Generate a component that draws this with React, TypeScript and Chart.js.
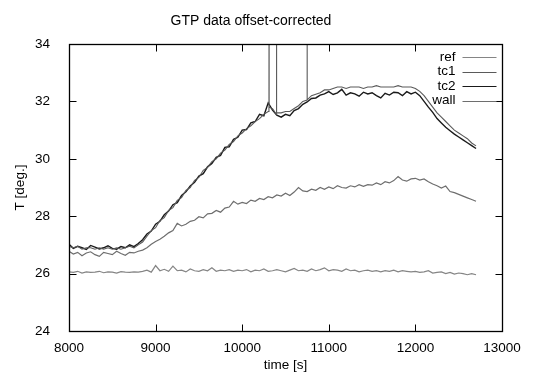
import { useEffect, useRef } from "react";
import { Chart, registerables } from "chart.js";

Chart.register(...registerables);

const times = [
  8000, 8050, 8100, 8150, 8200, 8250, 8300, 8350, 8400, 8450, 8500, 8550, 8600, 8650, 8700, 8750, 8800, 8850, 8900, 8950,
  9000, 9050, 9100, 9150, 9200, 9250, 9300, 9350, 9400, 9450, 9500, 9550, 9600, 9650, 9700, 9750, 9800, 9850, 9900, 9950,
  10000, 10050, 10100, 10150, 10200, 10250, 10300, 10350, 10400, 10450, 10500, 10550, 10600, 10650, 10700, 10750, 10800, 10850, 10900, 10950,
  11000, 11050, 11100, 11150, 11200, 11250, 11300, 11350, 11400, 11450, 11500, 11550, 11600, 11650, 11700, 11750, 11800, 11850, 11900, 11950,
  12000, 12050, 12100, 12150, 12200, 12250, 12300, 12350, 12400, 12450, 12500, 12550, 12600, 12650, 12700,
];

const refValues = [
  26.06, 26.04, 26.08, 26.02, 26.06, 26.04, 26.05, 26.08, 26.03, 26.06, 26.05, 26.02, 26.07, 26.05, 26.04, 26.06, 26.05, 26.08, 26.12, 26.05,
  26.28, 26.1, 26.15, 26.08, 26.26, 26.1, 26.12, 26.06, 26.16, 26.1, 26.08, 26.14, 26.1, 26.2, 26.08, 26.12, 26.1, 26.14, 26.08, 26.12,
  26.1, 26.14, 26.06, 26.12, 26.1, 26.16, 26.08, 26.1, 26.14, 26.1, 26.06, 26.12, 26.18, 26.1, 26.12, 26.08, 26.16, 26.1, 26.14, 26.2,
  26.1, 26.14, 26.12, 26.08, 26.16, 26.1, 26.12, 26.06, 26.1, 26.12, 26.08, 26.1, 26.06, 26.1, 26.08, 26.12, 26.06, 26.1, 26.08, 26.06,
  26.08, 26.04, 26.06, 26.1, 26.02, 26.04, 26.06, 26.0, 26.04, 25.98, 26.02, 26.0, 25.96, 26.0, 25.96,
];

const tc1Values = [
  26.95, 26.9, 26.95, 26.85, 26.9, 26.9, 26.85, 26.9, 26.85, 26.9, 26.85, 26.9, 26.85, 26.9, 26.95, 26.9, 27.0, 27.1, 27.3, 27.5,
  27.6, 27.85, 27.95, 28.2, 28.3, 28.55, 28.65, 28.9, 29.0, 29.25, 29.35, 29.6, 29.7, 29.9, 30.0, 30.2, 30.3, 30.5, 30.6, 30.8,
  30.9, 31.05, 31.15, 31.3, 31.4, 31.55, 31.65, 31.75, 31.6, 31.6, 31.65, 31.65, 31.75, 31.85, 32.0, 32.1, 32.2, 32.25, 32.3, 32.4,
  32.4, 32.45, 32.5, 32.5, 32.45, 32.5, 32.5, 32.5, 32.45, 32.5, 32.5, 32.55, 32.5, 32.5, 32.5, 32.5, 32.55, 32.5, 32.5, 32.5,
  32.45, 32.35, 32.2, 32.0, 31.8, 31.6, 31.45, 31.3, 31.15, 31.0, 30.9, 30.8, 30.7, 30.55, 30.45,
];

const tc2Values = [
  27.02, 26.88, 26.95, 26.9, 26.84, 26.98, 26.92, 26.86, 26.9, 26.97, 26.88, 26.85, 26.94, 26.9, 27.0, 26.94, 27.05, 27.18, 27.38, 27.48,
  27.72, 27.82, 28.05, 28.18, 28.4, 28.47, 28.72, 28.85, 29.05, 29.18, 29.4, 29.48, 29.72, 29.84, 30.05, 30.12, 30.4, 30.42, 30.68, 30.75,
  31.0, 31.02, 31.25, 31.3, 31.55, 31.5, 31.95, 31.7, 31.52, 31.45, 31.55, 31.5, 31.68, 31.75, 31.9, 31.98, 32.1, 32.12, 32.22, 32.26,
  32.34, 32.24, 32.3, 32.42, 32.22, 32.3, 32.26, 32.18, 32.32, 32.26, 32.3, 32.2, 32.12, 32.28, 32.22, 32.32, 32.3, 32.2, 32.34, 32.26,
  32.32, 32.2, 32.0, 31.8, 31.62, 31.4, 31.25, 31.1, 30.98, 30.86, 30.76, 30.66, 30.56, 30.46, 30.36,
];

const wallValues = [
  26.78, 26.68, 26.74, 26.62, 26.72, 26.76, 26.66, 26.6, 26.74, 26.7, 26.66, 26.78, 26.7, 26.64, 26.74, 26.72, 26.78, 26.82, 26.9, 27.02,
  27.12, 27.2, 27.3, 27.42, 27.5, 27.75, 27.66, 27.72, 27.82, 27.86, 27.98, 27.94, 28.08, 28.1, 28.2, 28.14, 28.28, 28.32, 28.52, 28.42,
  28.48, 28.44, 28.56, 28.52, 28.62, 28.58, 28.68, 28.64, 28.74, 28.7, 28.8, 28.72, 28.84, 29.0, 28.88, 28.86, 28.94, 28.9, 29.0, 28.94,
  29.02, 28.96, 29.06, 29.0, 28.98, 29.06, 29.02, 29.1, 29.04, 29.1, 29.08, 29.16, 29.1, 29.2, 29.16, 29.24, 29.38, 29.26, 29.22, 29.3,
  29.32, 29.26, 29.3, 29.2, 29.12, 29.06, 28.98, 29.05, 28.86, 28.82, 28.76, 28.7, 28.64, 28.58, 28.52,
];

// glitch spikes in tc1 (they run off the top of the plot)
const spikeTimes = [10310, 10395, 10750];
const spikeBase = [31.8, 31.55, 32.05];
const spikeTop = 36;

const seriesNames = ["ref", "tc1", "tc2", "wall"];
const seriesColors = ["#858585", "#5a5a5a", "#1a1a1a", "#6e6e6e"];
const seriesWidths = [1.2, 1.1, 1.4, 1.2];

const xMin = 8000;
const xMax = 13000;
const xStep = 1000;
const yMin = 24;
const yMax = 34;
const yStep = 2;

const FONT = "'Liberation Sans', Arial, sans-serif";

function toPoints(vals: number[]) {
  return times.map((t, i) => ({ x: t, y: vals[i] }));
}

function tc1Points() {
  const pts = toPoints(tc1Values);
  spikeTimes.forEach((t, i) => {
    pts.push({ x: t - 1, y: spikeBase[i] });
    pts.push({ x: t, y: spikeTop });
    pts.push({ x: t + 1, y: spikeBase[i] });
  });
  pts.sort((a, b) => a.x - b.x);
  return pts;
}

const framePlugin = {
  id: "frame",
  afterDraw(chart: any) {
    const { ctx, chartArea } = chart;
    const { left, right, top, bottom } = chartArea;
    const xs = chart.scales.x;
    const ys = chart.scales.y;
    const L = Math.round(left) + 0.5;
    const R = Math.round(right) + 0.5;
    const T = Math.round(top) + 0.5;
    const B = Math.round(bottom) + 0.5;
    const tl = 7;
    ctx.save();
    ctx.strokeStyle = "#000";
    ctx.lineWidth = 1;
    ctx.beginPath();
    xs.ticks.forEach((tk: any) => {
      const px = Math.round(xs.getPixelForValue(tk.value)) + 0.5;
      ctx.moveTo(px, B);
      ctx.lineTo(px, B - tl);
      ctx.moveTo(px, T);
      ctx.lineTo(px, T + tl);
    });
    ys.ticks.forEach((tk: any) => {
      const py = Math.round(ys.getPixelForValue(tk.value)) + 0.5;
      ctx.moveTo(L, py);
      ctx.lineTo(L + tl, py);
      ctx.moveTo(R, py);
      ctx.lineTo(R - tl, py);
    });
    ctx.stroke();
    ctx.lineWidth = 1.3;
    ctx.strokeRect(L, T, R - L, B - T);
    // key
    ctx.font = `13.5px ${FONT}`;
    ctx.textAlign = "right";
    ctx.textBaseline = "middle";
    chart.data.datasets.forEach((ds: any, i: number) => {
      const y = T + 12.5 + i * 14.5;
      ctx.fillStyle = "#000";
      ctx.fillText(ds.label, R - 47, y);
      ctx.strokeStyle = ds.borderColor;
      ctx.lineWidth = 1;
      ctx.beginPath();
      ctx.moveTo(R - 40, Math.round(y) + 0.5);
      ctx.lineTo(R - 6, Math.round(y) + 0.5);
      ctx.stroke();
    });
    ctx.restore();
  },
};

export default function App() {
  const ref = useRef<HTMLCanvasElement | null>(null);

  useEffect(() => {
    if (!ref.current) return;
    const dataSets = [toPoints(refValues), tc1Points(), toPoints(tc2Values), toPoints(wallValues)];
    const chart = new Chart(ref.current, {
      type: "line",
      data: {
        datasets: dataSets.map((d, i) => ({
          label: seriesNames[i],
          data: d,
          borderColor: seriesColors[i],
          backgroundColor: seriesColors[i],
          borderWidth: seriesWidths[i],
          pointRadius: 0,
          tension: 0,
          fill: false,
        })),
      },
      options: {
        animation: false,
        responsive: false,
        events: [],
        layout: { padding: { left: 0, right: 41, top: 0, bottom: 0 } },
        plugins: {
          legend: { display: false },
          tooltip: { enabled: false },
          title: {
            display: true,
            text: "GTP data offset-corrected",
            color: "#000",
            font: { family: FONT, size: 14, weight: "normal" },
            padding: { top: 13, bottom: 14.2 },
          },
        },
        scales: {
          x: {
            type: "linear",
            min: xMin,
            max: xMax,
            ticks: {
              stepSize: xStep,
              color: "#000",
              font: { family: FONT, size: 13.5 },
              padding: 1,
              maxRotation: 0,
              autoSkip: false,
              callback: (v: any) => String(v),
            },
            grid: { display: false },
            border: { display: false },
            title: {
              display: true,
              text: "time [s]",
              color: "#000",
              font: { family: FONT, size: 13.5 },
              padding: { top: 0, bottom: 3 },
            },
            afterFit: (s: any) => {
              s.height = 45;
            },
          },
          y: {
            type: "linear",
            min: yMin,
            max: yMax,
            ticks: {
              stepSize: yStep,
              color: "#000",
              font: { family: FONT, size: 13.5 },
              padding: 11,
              autoSkip: false,
            },
            grid: { display: false },
            border: { display: false },
            title: {
              display: true,
              text: "T [deg.]",
              color: "#000",
              font: { family: FONT, size: 13.5 },
              padding: { top: 12, bottom: 0 },
            },
            afterFit: (s: any) => {
              s.width = 69;
            },
          },
        },
      },
      plugins: [framePlugin],
    });
    return () => chart.destroy();
  }, []);

  return (
    <div style={{ position: "fixed", left: 0, top: 0, width: 543, height: 376, background: "#fff" }}>
      <canvas ref={ref} width={543} height={376} style={{ display: "block" }} />
    </div>
  );
}
